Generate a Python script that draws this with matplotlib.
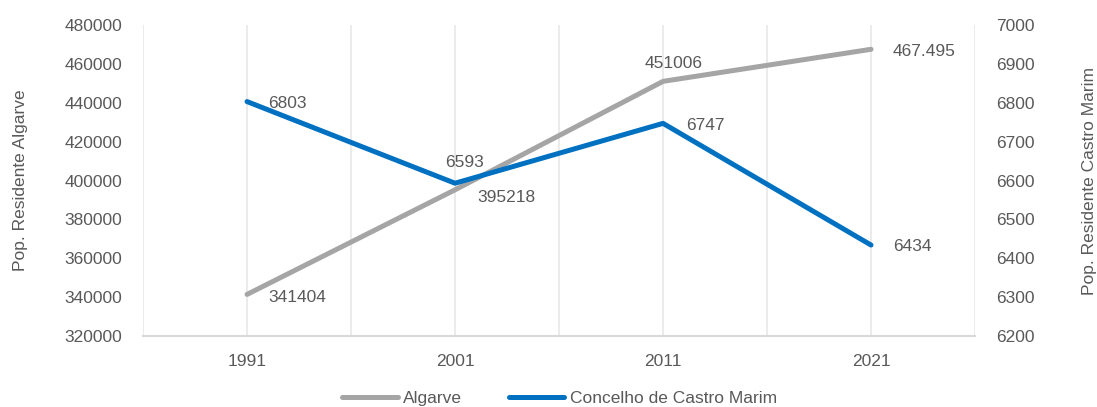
import matplotlib
matplotlib.use('Agg')
import matplotlib.pyplot as plt
from matplotlib import font_manager
from matplotlib.ticker import MultipleLocator

# narrow font if present, otherwise plain Liberation Sans a bit smaller
try:
    font_manager.findfont('Liberation Sans Narrow', fallback_to_default=False)
    plt.rcParams['font.family'] = ['Liberation Sans Narrow', 'DejaVu Sans']
    fs = 14
except ValueError:
    plt.rcParams['font.family'] = ['Liberation Sans', 'DejaVu Sans']
    fs = 12.5

years = ['1991', '2001', '2011', '2021']
algarve = [341404, 395218, 451006, 467495]
castro_marim = [6803, 6593, 6747, 6434]
algarve_labels = ['341404', '395218', '451006', '467.495']
castro_labels = ['6803', '6593', '6747', '6434']

text_col = '#595959'
grey = '#A5A5A5'
blue = '#0070C0'

fig = plt.figure(figsize=(10.97, 4.07), dpi=100)
ax = fig.add_axes([0.1304, 0.1744, 0.7584, 0.7642])
ax2 = ax.twinx()

x = list(range(len(years)))
l1, = ax.plot(x, algarve, color=grey, lw=3.6, solid_capstyle='round', label='Algarve')
l2, = ax2.plot(x, castro_marim, color=blue, lw=3.6, solid_capstyle='round', label='Concelho de Castro Marim')

ax.set_xlim(-0.5, 3.5)
ax.set_ylim(320000, 480000)
ax.set_yticks(range(320000, 480001, 20000))
ax2.set_ylim(6200, 7000)
ax2.set_yticks(range(6200, 7001, 100))
ax.set_xticks(x)
ax.set_xticklabels(years)
ax.xaxis.set_minor_locator(MultipleLocator(0.5))
ax.grid(True, axis='x', which='both', color='#E7E7E7', lw=1.2)
ax.set_axisbelow(True)

for a in (ax, ax2):
    for s in ('top', 'left', 'right'):
        a.spines[s].set_visible(False)
    a.spines['bottom'].set_color('#D9D9D9')
    a.spines['bottom'].set_linewidth(1.5)
    a.tick_params(length=0, colors=text_col, labelsize=fs, which='both')
ax.tick_params(axis='x', pad=13)
ax.tick_params(axis='y', pad=15)
ax2.tick_params(axis='y', pad=15)

ax.set_ylabel('Pop. Residente Algarve', color=text_col, fontsize=fs, labelpad=26)
ax2.set_ylabel('Pop. Residente Castro Marim', color=text_col, fontsize=fs, labelpad=34)

# data labels (offsets in pixels)
alg_off = [(21, -3, 'left', 'center'), (22, 0, 'left', 'top'), (11, 10, 'center', 'bottom'), (22, -2, 'left', 'center')]
for i, (v, t) in enumerate(zip(algarve, algarve_labels)):
    dx, dy, ha, va = alg_off[i]
    ax.annotate(t, (x[i], v), xytext=(dx, dy), textcoords='offset pixels',
                ha=ha, va=va, color=text_col, fontsize=fs)
cm_off = [(21, -2, 'left', 'center'), (9, 13, 'center', 'bottom'), (23, -2, 'left', 'center'), (22, -1, 'left', 'center')]
for i, (v, t) in enumerate(zip(castro_marim, castro_labels)):
    dx, dy, ha, va = cm_off[i]
    ax2.annotate(t, (x[i], v), xytext=(dx, dy), textcoords='offset pixels',
                 ha=ha, va=va, color=text_col, fontsize=fs)

fig.legend(handles=[l1, l2], loc='center', bbox_to_anchor=(0.51, 0.02), ncol=2,
           frameon=False, fontsize=fs, labelcolor=text_col, handlelength=3.2,
           handletextpad=0.3, columnspacing=2.7)

fig.savefig('out.png', dpi=100)
